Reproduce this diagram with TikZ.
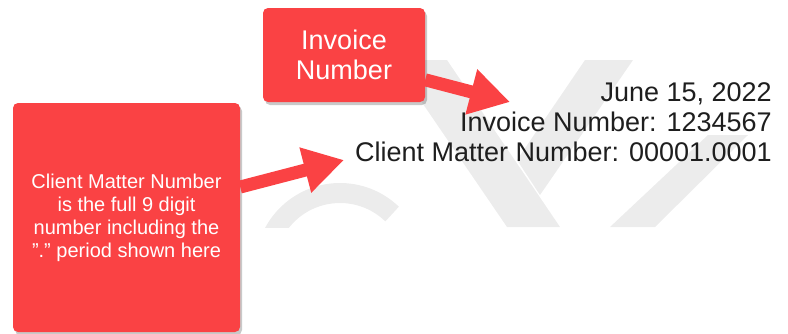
\documentclass[tikz,border=0pt]{standalone}
\usepackage{fontspec}
\setmainfont{Liberation Sans}
\usetikzlibrary{arrows.meta, shadows}
\definecolor{calloutred}{RGB}{250,66,68}
\definecolor{markgray}{RGB}{236,236,236}
\definecolor{letterink}{RGB}{30,30,30}
\tikzset{>={Triangle[length=40pt,width=44pt]}}

\begin{document}
\begin{tikzpicture}[x=1pt, y=-1pt, callout/.style={rectangle, rounded corners=5pt, fill=calloutred, text=white, align=center, drop shadow={shadow xshift=2pt, shadow yshift=-3pt, opacity=0.3, fill=black!70}}, fatarrow/.style={->, calloutred, line width=13pt}, letter/.style={align=right, text=letterink, inner sep=0pt, font=\fontsize{27}{30}\selectfont}]

    \useasboundingbox (0,0) rectangle (788,333);

    %Watermark
    \begin{scope}
        \clip (0,60) rectangle (788,227);
        \fill[markgray] (393,60) -- (447,60) -- (560,227) -- (507,227) -- cycle;
        \fill[markgray] (585,60) -- (633,60) -- (540,195) -- (517,160) -- cycle;
        \fill[markgray] (708,135) -- (748,135) -- (655,227) -- (610,227) -- cycle;
        \draw[markgray, line width=20pt] (340,268) ++(-46:75) arc[start angle=-46, end angle=-180, radius=75];
    \end{scope}

    %Nodes
    \node[callout, minimum width=162pt, minimum height=94pt, font=\fontsize{27}{30}\selectfont](invoice) at (344,55) {Invoice\\Number};
    \node[callout, minimum width=227pt, minimum height=229pt, font=\fontsize{20}{23}\selectfont](matter) at (126.5,217.5) {Client Matter Number\\is the full 9 digit\\number including the\\\symbol{34}.\symbol{34} period shown here};
    \node[letter, anchor=east](header) at (772,122) {June 15, 2022\\Invoice Number: 1234567\\Client Matter Number: 00001.0001};
    \coordinate (invoicetip) at (510,102);
    \coordinate (mattertip) at (344,160);

    %Lines
    \draw[fatarrow] (invoice.-17) -- (invoicetip);
    \draw[fatarrow] (matter.15.5) -- (mattertip);

\end{tikzpicture}
\end{document}
